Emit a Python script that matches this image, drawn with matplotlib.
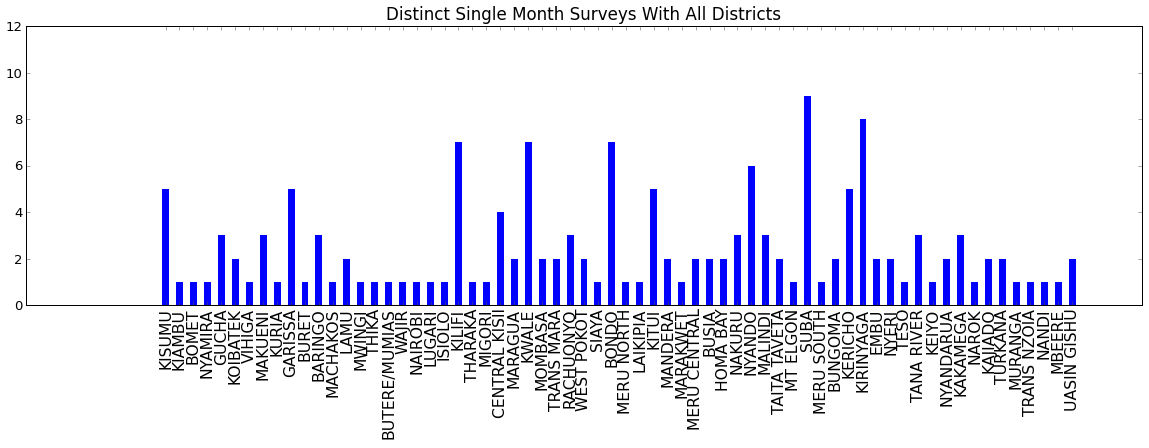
import matplotlib
matplotlib.use("Agg")
import matplotlib.pyplot as plt
import numpy as np

districts = ["KISUMU", "KIAMBU", "BOMET", "NYAMIRA", "GUCHA", "KOIBATEK", "VIHIGA",
             "MAKUENI", "KURIA", "GARISSA", "BURET", "BARINGO", "MACHAKOS", "LAMU",
             "MWINGI", "THIKA", "BUTERE/MUMIAS", "WAJIR", "NAIROBI", "LUGARI", "ISIOLO",
             "KILIFI", "THARAKA", "MIGORI", "CENTRAL KISII", "MARAGUA", "KWALE",
             "MOMBASA", "TRANS MARA", "RACHUONYO", "WEST POKOT", "SIAYA", "BONDO",
             "MERU NORTH", "LAIKIPIA", "KITUI", "MANDERA", "MARAKWET", "MERU CENTRAL",
             "BUSIA", "HOMA BAY", "NAKURU", "NYANDO", "MALINDI", "TAITA TAVETA",
             "MT ELGON", "SUBA", "MERU SOUTH", "BUNGOMA", "KERICHO", "KIRINYAGA", "EMBU",
             "NYERI", "TESO", "TANA RIVER", "KEIYO", "NYANDARUA", "KAKAMEGA", "NAROK",
             "KAJIADO", "TURKANA", "MURANGA", "TRANS NZOIA", "NANDI", "MBEERE",
             "UASIN GISHU"]
surveys = [5, 1, 1, 1, 3, 2, 1, 3, 1, 5, 1, 3, 1, 2, 1, 1, 1, 1, 1, 1, 1,
           7, 1, 1, 4, 2, 7, 2, 2, 3, 2, 1, 7, 1, 1, 5, 2, 1, 2, 2, 2, 3, 6, 3,
           2, 1, 9, 1, 2, 5, 8, 2, 2, 1, 3, 1, 2, 3, 1, 2, 2, 1, 1, 1, 1, 2]

plt.rcParams['font.family'] = ['DejaVu Sans']
fig = plt.figure(figsize=(1149 / 72, 448 / 72), dpi=72, facecolor='white')
ax = fig.add_axes([26 / 1149, 1 - 305 / 448, (1142 - 26) / 1149, (305 - 26) / 448])

x = np.arange(len(districts))
ax.bar(x, surveys, width=0.5, color='#0000ff', linewidth=0)
ax.set_xlim(-10, 70)
ax.set_ylim(0, 12)
ax.set_yticks(range(0, 13, 2))
ax.set_xticks(x)
ax.set_xticklabels(districts, rotation=90, fontsize=15.6)
ax.tick_params(axis='y', labelsize=13.3)
ax.tick_params(direction='in', top=True, right=True, length=4, width=0.5, color='#555555')
for s in ax.spines.values():
    s.set_linewidth(1.0)
ax.set_title("Distinct Single Month Surveys With All Districts", fontsize=16.7)

fig.savefig("out.png", dpi=72, facecolor='white')
